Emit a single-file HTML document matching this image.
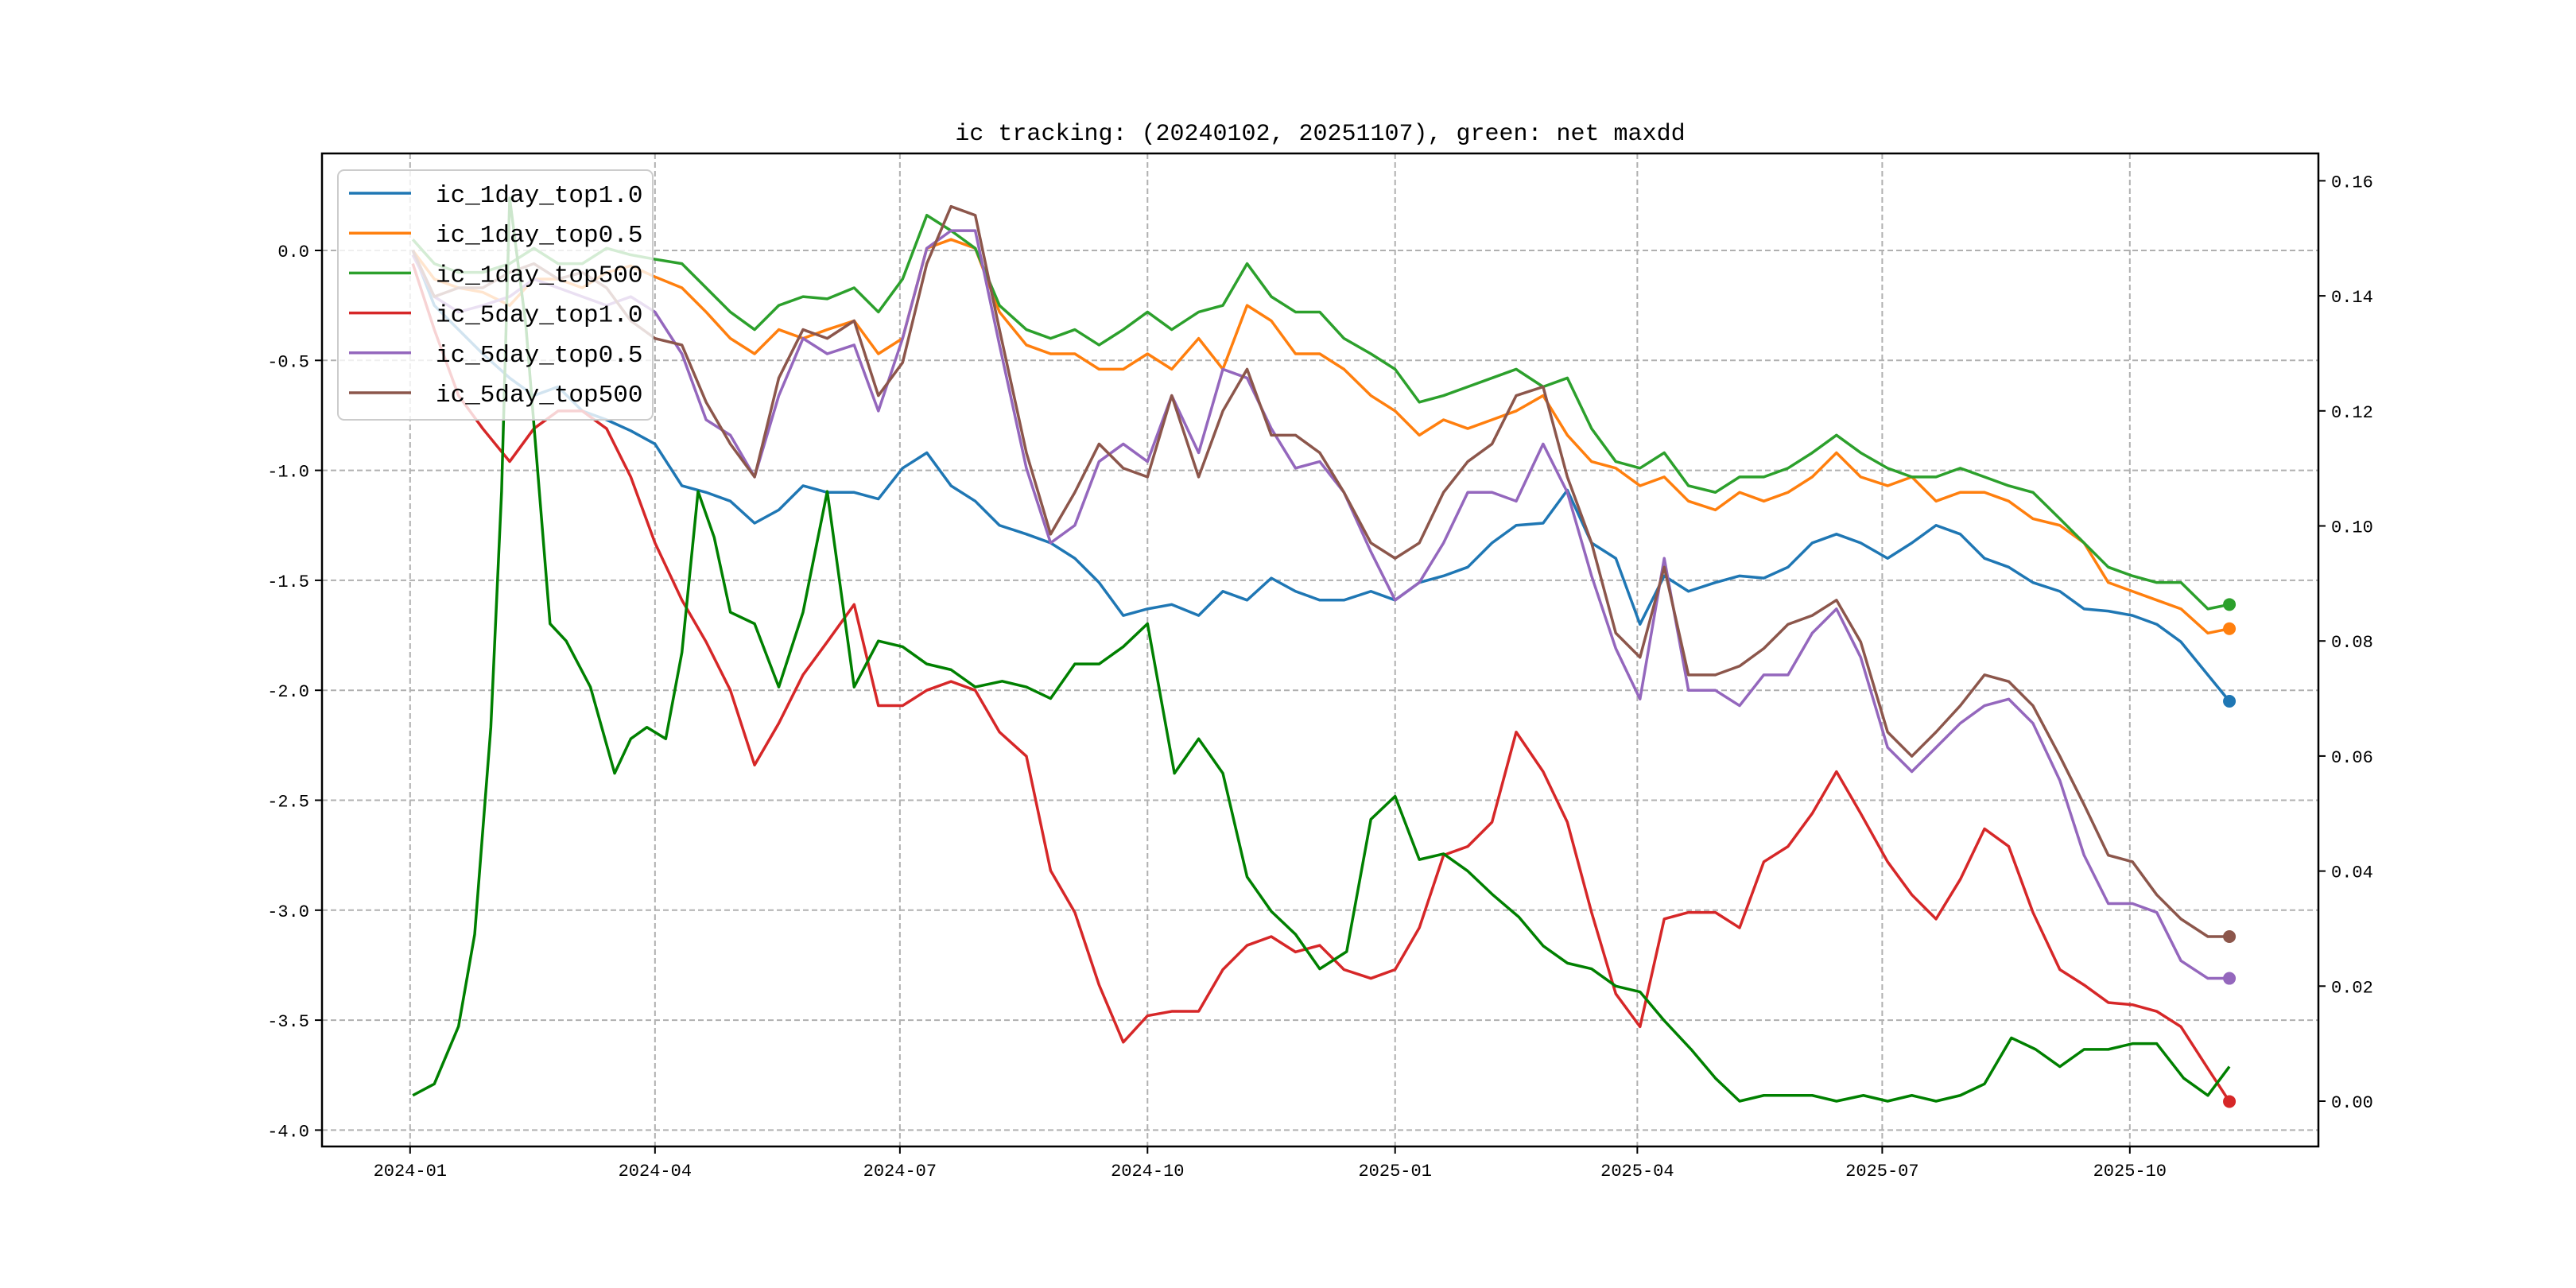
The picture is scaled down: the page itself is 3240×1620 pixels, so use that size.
<!DOCTYPE html>
<html><head><meta charset="utf-8"><style>
html,body{margin:0;padding:0;background:#fff;}
svg{display:block;font-family:"Liberation Mono","Noto Sans CJK SC",monospace;}
</style></head><body>
<svg id="chart" width="3240" height="1620" viewBox="0 0 3240 1620"></svg>
<script>
const days = [1,9,18,27,37,46,55,64,73,82,91,101,110,119,128,137,146,155,165,174,183,192,201,210,219,229,238,247,256,265,274,283,293,302,311,320,329,338,347,357,366,375,384,393,402,411,421,430,439,448,457,466,475,485,494,503,512,521,530,539,549,558,567,576,585,594,603,613,622,631,640,649,658,668,676];
const ic1dTop10 = [0,-.25,-.36,-.47,-.58,-.66,-.62,-.73,-.77,-.82,-.88,-1.07,-1.10,-1.14,-1.24,-1.18,-1.07,-1.10,-1.10,-1.13,-.99,-.92,-1.07,-1.14,-1.25,-1.29,-1.33,-1.40,-1.51,-1.66,-1.63,-1.61,-1.66,-1.55,-1.59,-1.49,-1.55,-1.59,-1.59,-1.55,-1.59,-1.51,-1.48,-1.44,-1.33,-1.25,-1.24,-1.09,-1.33,-1.40,-1.70,-1.48,-1.55,-1.51,-1.48,-1.49,-1.44,-1.33,-1.29,-1.33,-1.40,-1.33,-1.25,-1.29,-1.40,-1.44,-1.51,-1.55,-1.63,-1.64,-1.66,-1.70,-1.78,-1.93,-2.05];
const ic1dTop05 = [0,-.13,-.17,-.19,-.25,-.13,-.13,-.17,-.10,-.07,-.12,-.17,-.28,-.40,-.47,-.36,-.40,-.36,-.32,-.47,-.40,.01,.05,.01,-.28,-.43,-.47,-.47,-.54,-.54,-.47,-.54,-.40,-.54,-.25,-.32,-.47,-.47,-.54,-.66,-.73,-.84,-.77,-.81,-.77,-.73,-.66,-.84,-.96,-.99,-1.07,-1.03,-1.14,-1.18,-1.10,-1.14,-1.10,-1.03,-.92,-1.03,-1.07,-1.03,-1.14,-1.10,-1.10,-1.14,-1.22,-1.25,-1.33,-1.51,-1.55,-1.59,-1.63,-1.74,-1.72];
const ic1dTop500 = [.05,-.06,-.10,-.10,-.06,.01,-.06,-.06,.01,-.02,-.04,-.06,-.17,-.28,-.36,-.25,-.21,-.22,-.17,-.28,-.13,.16,.09,.01,-.25,-.36,-.40,-.36,-.43,-.36,-.28,-.36,-.28,-.25,-.06,-.21,-.28,-.28,-.40,-.47,-.54,-.69,-.66,-.62,-.58,-.54,-.62,-.58,-.81,-.96,-.99,-.92,-1.07,-1.10,-1.03,-1.03,-.99,-.92,-.84,-.92,-.99,-1.03,-1.03,-.99,-1.03,-1.07,-1.10,-1.22,-1.33,-1.44,-1.48,-1.51,-1.51,-1.63,-1.61];
const ic5dTop10 = [-.06,-.36,-.66,-.81,-.96,-.81,-.73,-.73,-.81,-1.03,-1.33,-1.59,-1.78,-2.00,-2.34,-2.15,-1.93,-1.78,-1.61,-2.07,-2.07,-2.00,-1.96,-2.00,-2.19,-2.30,-2.82,-3.01,-3.34,-3.60,-3.48,-3.46,-3.46,-3.27,-3.16,-3.12,-3.19,-3.16,-3.27,-3.31,-3.27,-3.08,-2.75,-2.71,-2.60,-2.19,-2.37,-2.60,-3.01,-3.38,-3.53,-3.04,-3.01,-3.01,-3.08,-2.78,-2.71,-2.56,-2.37,-2.56,-2.78,-2.93,-3.04,-2.86,-2.63,-2.71,-3.01,-3.27,-3.34,-3.42,-3.43,-3.46,-3.53,-3.72,-3.87];
const ic5dTop05 = [-.02,-.21,-.28,-.25,-.21,-.13,-.17,-.21,-.25,-.21,-.28,-.47,-.77,-.84,-1.03,-.66,-.40,-.47,-.43,-.73,-.40,.01,.09,.09,-.43,-.99,-1.33,-1.25,-.96,-.88,-.96,-.66,-.92,-.54,-.58,-.81,-.99,-.96,-1.10,-1.37,-1.59,-1.51,-1.33,-1.10,-1.10,-1.14,-.88,-1.10,-1.48,-1.81,-2.04,-1.40,-2.00,-2.00,-2.07,-1.93,-1.93,-1.74,-1.63,-1.85,-2.26,-2.37,-2.26,-2.15,-2.07,-2.04,-2.15,-2.41,-2.75,-2.97,-2.97,-3.01,-3.23,-3.31,-3.31];
const ic5dTop500 = [0,-.21,-.17,-.17,-.10,-.06,-.13,-.10,-.17,-.32,-.40,-.43,-.69,-.88,-1.03,-.58,-.36,-.40,-.32,-.66,-.51,-.06,.20,.16,-.36,-.92,-1.29,-1.10,-.88,-.99,-1.03,-.66,-1.03,-.73,-.54,-.84,-.84,-.92,-1.10,-1.33,-1.40,-1.33,-1.10,-.96,-.88,-.66,-.62,-1.03,-1.33,-1.74,-1.85,-1.44,-1.93,-1.93,-1.89,-1.81,-1.70,-1.66,-1.59,-1.78,-2.19,-2.30,-2.19,-2.07,-1.93,-1.96,-2.07,-2.30,-2.52,-2.75,-2.78,-2.93,-3.04,-3.12,-3.12];
const ddDays = [1,9,18,24,30,34,37,43,52,58,67,76,82,88,95,101,107,113,119,128,137,146,155,165,174,183,192,201,210,220,229,238,247,256,265,274,284,293,302,311,320,329,338,348,357,366,375,384,393,402,412,421,430,439,448,457,466,476,485,494,503,512,521,530,540,549,558,567,576,585,595,604,613,622,631,640,649,659,668,676];
const netMaxdd = [.001,.003,.013,.029,.065,.106,.157,.135,.083,.080,.072,.057,.063,.065,.063,.078,.106,.098,.085,.083,.072,.085,.106,.072,.080,.079,.076,.075,.072,.073,.072,.070,.076,.076,.079,.083,.057,.063,.057,.039,.033,.029,.023,.026,.049,.053,.042,.043,.040,.036,.032,.027,.024,.023,.020,.019,.014,.009,.004,0,.001,.001,.001,0,.001,0,.001,0,.001,.003,.011,.009,.006,.009,.009,.010,.010,.004,.001,.006];
const leftTicks = [0.0,-0.5,-1.0,-1.5,-2.0,-2.5,-3.0,-3.5,-4.0];
const rightTicks = [0.00,0.02,0.04,0.06,0.08,0.10,0.12,0.14,0.16];
const xTickLabels = ["2024-01","2024-04","2024-07","2024-10","2025-01","2025-04","2025-07","2025-10"];
const xTickDays = [0,91,182,274,366,456,547,639];

const NS="http://www.w3.org/2000/svg";
const svg=document.getElementById('chart');
const L=405,R=2916,T=193,B=1442;
const xS=d=>515.8+d*3.385;
const yL=v=>315-v*276.6;
const yR=v=>1385-v*7235;
function mk(tag,attrs,parent){const e=document.createElementNS(NS,tag);for(const k in attrs)e.setAttribute(k,attrs[k]);(parent||svg).appendChild(e);return e;}

// title
let t=mk('text',{x:(L+R)/2,y:176,'text-anchor':'middle','font-size':30,fill:'#000'});
t.textContent='ic tracking: (20240102, 20251107), green: net maxdd';



// grid
xTickDays.forEach((d,i)=>{
  const g=mk('line',{x1:xS(d),x2:xS(d),y1:T,y2:B,stroke:'#b0b0b0','stroke-width':2,'stroke-dasharray':'7,4'});
  
  
  const tk=mk('line',{x1:xS(d),x2:xS(d),y1:B,y2:B+9,stroke:'#000','stroke-width':2});
  
  
  const lb=mk('text',{x:xS(d),y:B+37,'text-anchor':'middle','font-size':22});
  lb.textContent=xTickLabels[i];
  
  
});
leftTicks.forEach(v=>{
  const g=mk('line',{x1:L,x2:R,y1:yL(v),y2:yL(v),stroke:'#b0b0b0','stroke-width':2,'stroke-dasharray':'7,4'});
  
  
  const tk=mk('line',{x1:L-9,x2:L,y1:yL(v),y2:yL(v),stroke:'#000','stroke-width':2});
  
  
  const lb=mk('text',{x:L-16,y:yL(v)+8,'text-anchor':'end','font-size':22});
  lb.textContent=v.toFixed(1);
  
  
});
rightTicks.forEach(v=>{
  const tk=mk('line',{x1:R,x2:R+9,y1:yR(v),y2:yR(v),stroke:'#000','stroke-width':2});
  
  
  const lb=mk('text',{x:R+16,y:yR(v)+8,'text-anchor':'start','font-size':22});
  lb.textContent=v.toFixed(2);
  
  
});

// series
const series=[
  {name:'ic_1day_top1.0',vals:ic1dTop10,color:'#1f77b4',id:'line-ic-1day-top1'},
  {name:'ic_1day_top0.5',vals:ic1dTop05,color:'#ff7f0e',id:'line-ic-1day-top05'},
  {name:'ic_1day_top500',vals:ic1dTop500,color:'#2ca02c',id:'line-ic-1day-top500'},
  {name:'ic_5day_top1.0',vals:ic5dTop10,color:'#d62728',id:'line-ic-5day-top1'},
  {name:'ic_5day_top0.5',vals:ic5dTop05,color:'#9467bd',id:'line-ic-5day-top05'},
  {name:'ic_5day_top500',vals:ic5dTop500,color:'#8c564b',id:'line-ic-5day-top500'}
];
series.forEach(s=>{
  const p=mk('polyline',{points:s.vals.map((v,i)=>xS(days[i])+','+yL(v)).join(' '),fill:'none',stroke:s.color,'stroke-width':3.5,'stroke-linejoin':'round'});
  
  
});
const dd=mk('polyline',{points:netMaxdd.map((v,i)=>xS(ddDays[i])+','+yR(v)).join(' '),fill:'none',stroke:'#008000','stroke-width':3.5,'stroke-linejoin':'round'});


series.forEach(s=>{
  const n=s.vals.length-1;
  const c=mk('circle',{cx:xS(days[n]),cy:yL(s.vals[n]),r:8,fill:s.color});
  
  
});

// axes frame
const fr=mk('rect',{x:L,y:T,width:R-L,height:B-T,fill:'none',stroke:'#000','stroke-width':2.5});



// legend
const lg=mk('g',{});


mk('rect',{x:425,y:214,width:396,height:314,rx:8,fill:'rgba(255,255,255,0.8)',stroke:'#cccccc','stroke-width':2},lg);
series.forEach((s,i)=>{
  const y=243+i*50.2;
  const ln=mk('line',{x1:439,x2:517,y1:y,y2:y,stroke:s.color,'stroke-width':3.5},lg);
  
  
  const tx=mk('text',{x:548,y:y+11,'font-size':31,fill:'#000'},lg);
  tx.textContent=s.name;
  
  
});
</script>
</body></html>
